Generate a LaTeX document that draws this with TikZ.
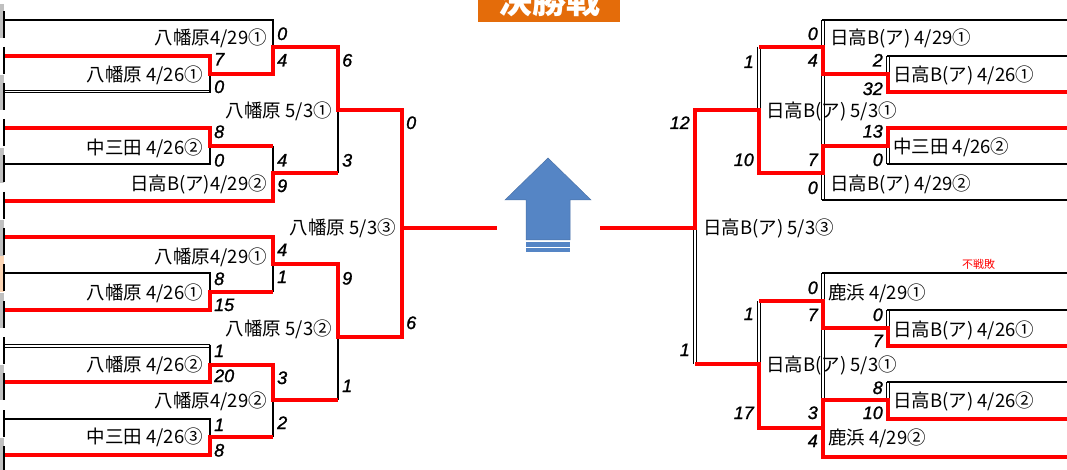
\documentclass[tikz,border=0pt]{standalone}
\usepackage{fontspec}
\newfontfamily\cjk{Noto Sans CJK JP}
\newfontfamily\scorefont[ItalicFeatures={FakeBold=1.2}]{Liberation Sans}
\definecolor{brRed}{HTML}{FF0000}
\definecolor{cellGray}{HTML}{C0C0C0}
\definecolor{cellPeach}{HTML}{FCD5B4}
\definecolor{titleOrange}{HTML}{E46C0A}
\definecolor{arrowBlue}{HTML}{5585C5}
\definecolor{arrowEdge}{HTML}{4A72A8}
\tikzset{
  win/.style={draw=brRed, line width=3.2pt, line join=miter},
  lose/.style={draw=black, line width=2pt, line join=miter},
  thinline/.style={draw=black, line width=1pt},
  tick/.style={draw=black, line width=1.4pt},
  lab/.style={font=\cjk\fontsize{18.5}{20}\selectfont, inner sep=0pt},
  labL/.style={lab, anchor=base east},
  labR/.style={lab, anchor=base west},
  sc/.style={font=\scorefont\itshape\fontsize{18}{20}\selectfont, inner sep=0pt},
  scL/.style={sc, anchor=base west},
  scR/.style={sc, anchor=base east},
}
% double vertical line: x, y1, y2
\newcommand\dblVert[3]{%
  \draw[thinline] (#1-1.3,#2) -- (#1-1.3,#3);
  \draw[thinline] (#1+1.3,#2) -- (#1+1.3,#3);}
% double horizontal line: x1, x2, y
\newcommand\dblHorz[3]{%
  \draw[thinline] (#1,#3-1.3) -- (#2,#3-1.3);
  \draw[thinline] (#1,#3+1.3) -- (#2,#3+1.3);}
\begin{document}
\begin{tikzpicture}[x=1pt,y=-1pt]
\useasboundingbox (0,0) rectangle (1067,470);
\fill[white] (0,0) rectangle (1067,470);
\clip (0,0) rectangle (1067,470);

% ---- left edge cell artefacts ----
\foreach \a/\b in {4/38,75/110,148/183,220/256,293/328,365/400,438/470}
  \fill[cellGray] (0,\a) rectangle (3.6,\b);
\fill[cellPeach] (0,256) rectangle (3.6,292);
\foreach \ly in {20,56,92,128,164,201,237,273,310,346,382,419,455}
  \draw[tick] (4,\ly-9) -- (4,\ly+18);

% ---- title ----
\fill[titleOrange] (478,-5) rectangle (620,22);
\node[font=\cjk\bfseries\fontsize{34}{36}\selectfont, text=white, inner sep=0pt, anchor=base] (title) at (549,14) {決勝戦};

% ---- arrow ----
\filldraw[fill=arrowBlue, draw=arrowEdge, line width=0.5pt]
  (548,158) -- (591,200) -- (570,200) -- (570,240) -- (526,240) -- (526,200) -- (505,200) -- cycle;
\fill[arrowBlue] (526,242.5) rectangle (570,246.5);
\fill[arrowBlue] (526,248) rectangle (570,252);

% ================= LEFT BRACKET =================
% losers (black)
\draw[lose] (5,20) -- (273,20) -- (273,47);
\dblHorz{5}{210}{91.5}
\draw[lose] (210,92.8) -- (210,74);
\draw[lose] (5,164) -- (210,164) -- (210,146);
\draw[lose] (273,146) -- (273,173);
\draw[lose] (338,173) -- (338,110);
\draw[lose] (5,273) -- (210,273) -- (210,292);
\draw[lose] (273,292) -- (273,264);
\dblHorz{5}{210}{346}
\draw[lose] (210,344.7) -- (210,365);
\draw[lose] (5,419) -- (210,419) -- (210,437);
\draw[lose] (273,437) -- (273,400);
\draw[lose] (338,400) -- (338,337);
% winners (red)
\draw[win] (5,56) -- (210,56) -- (210,74) -- (273,74) -- (273,47) -- (338,47) -- (338,110) -- (402,110) -- (402,228) -- (497,228);
\draw[win] (5,128) -- (210,128) -- (210,146) -- (273,146);
\draw[win] (5,201) -- (273,201) -- (273,173) -- (338,173);
\draw[win] (5,237) -- (273,237) -- (273,264) -- (338,264) -- (338,337) -- (402,337) -- (402,228);
\draw[win] (5,310) -- (210,310) -- (210,292) -- (273,292);
\draw[win] (5,382) -- (210,382) -- (210,365) -- (273,365) -- (273,400) -- (338,400);
\draw[win] (5,455) -- (210,455) -- (210,437) -- (273,437);

% ================= RIGHT BRACKET =================
% boxes (black)
\draw[lose] (1067,20) -- (821.7,20);
\dblVert{823}{20}{200}
\draw[lose] (821.7,200) -- (1067,200);
\draw[lose] (1067,56) -- (886.7,56);
\dblVert{888}{56}{74}
\dblVert{888}{146}{164}
\draw[lose] (886.7,164) -- (1067,164);
\dblVert{759}{47}{110}
\dblVert{695}{228}{364}
\draw[lose] (1067,273) -- (821.7,273);
\dblVert{823}{273}{457}
\draw[lose] (1067,310) -- (886.7,310);
\dblVert{888}{310}{328}
\dblVert{759}{301}{364}
\draw[lose] (1067,382) -- (886.7,382);
\dblVert{888}{382}{400}
% winners (red)
\draw[win] (1067,92) -- (888,92) -- (888,74) -- (823,74) -- (823,47) -- (759,47);
\draw[win] (1067,128) -- (888,128) -- (888,146) -- (823,146) -- (823,173) -- (759,173) -- (759,110) -- (695,110) -- (695,228) -- (600,228);
\draw[win] (1067,346) -- (888,346) -- (888,328) -- (823,328) -- (823,301) -- (759,301);
\draw[win] (1067,419) -- (888,419) -- (888,400) -- (823,400) -- (823,457) -- (1067,457);
\draw[win] (823,428) -- (759,428) -- (759,364) -- (695,364);

% ---- left labels ----
\node[labL] (a1) at (267,44.5) {八幡原4/29①};
\node[labL] (a2) at (203,81.5) {八幡原 4/26①};
\node[labL] (a3) at (332,117.5) {八幡原 5/3①};
\node[labL] (a4) at (203,154.5) {中三田 4/26②};
\node[labL] (a5) at (267,190.5) {日高B(ア)4/29②};
\node[labL] (a6) at (396,234.5) {八幡原 5/3③};
\node[labL] (a7) at (267,263) {八幡原4/29①};
\node[labL] (a8) at (203,299) {八幡原 4/26①};
\node[labL] (a9) at (332,335.5) {八幡原 5/3②};
\node[labL] (a10) at (203,371) {八幡原 4/26②};
\node[labL] (a11) at (267,407) {八幡原4/29②};
\node[labL] (a12) at (203,443) {中三田 4/26③};
% ---- right labels ----
\node[labR] (b1) at (830,44.5) {日高B(ア) 4/29①};
\node[labR] (b2) at (893,81.5) {日高B(ア) 4/26①};
\node[labR] (b3) at (766,117.5) {日高B(ア) 5/3①};
\node[labR] (b4) at (893,153.5) {中三田 4/26②};
\node[labR] (b5) at (830,190.5) {日高B(ア) 4/29②};
\node[labR] (b6) at (703,234.5) {日高B(ア) 5/3③};
\node[labR] (b7) at (828,299.5) {鹿浜 4/29①};
\node[labR] (b8) at (893,336) {日高B(ア) 4/26①};
\node[labR] (b9) at (766,371.5) {日高B(ア) 5/3①};
\node[labR] (b10) at (893,407.5) {日高B(ア) 4/26②};
\node[labR] (b11) at (828,444.5) {鹿浜 4/29②};
\node[font=\cjk\fontsize{11}{12}\selectfont, text=brRed, inner sep=0pt] (fusen) at (978.5,264) {不戦敗};

% ---- left scores ----
\foreach \x/\y/\t [count=\i] in {277/40/0, 214/65.5/7, 277/66.5/4, 214/93/0, 342/66.5/6, 406/129/0,
  214/138/8, 214/166.5/0, 277/166.5/4, 277/192/9, 342/166.5/3,
  277/256/4, 214/285/8, 277/283/1, 214/311/15, 342/284.5/9, 406/329/6,
  214/357/1, 214/382/20, 277/384/3, 342/392/1, 214/431/1, 277/429/2, 214/456.5/8}
  \node[scL] (sl\i) at (\x,\y) {\t};
% ---- right scores ----
\foreach \x/\y/\t [count=\i] in {818/40/0, 818/66.5/4, 883/66.5/2, 883/95/32, 754/68/1, 690/129/12,
  883/137.5/13, 883/166/0, 818/166/7, 754/166/10, 818/194/0,
  818/294/0, 818/321/7, 883/321/0, 883/347/7, 754/320/1, 690/356/1,
  883/394/8, 883/419/10, 818/419/3, 754/419/17, 818/447/4}
  \node[scR] (sr\i) at (\x,\y) {\t};
\end{tikzpicture}
\end{document}
